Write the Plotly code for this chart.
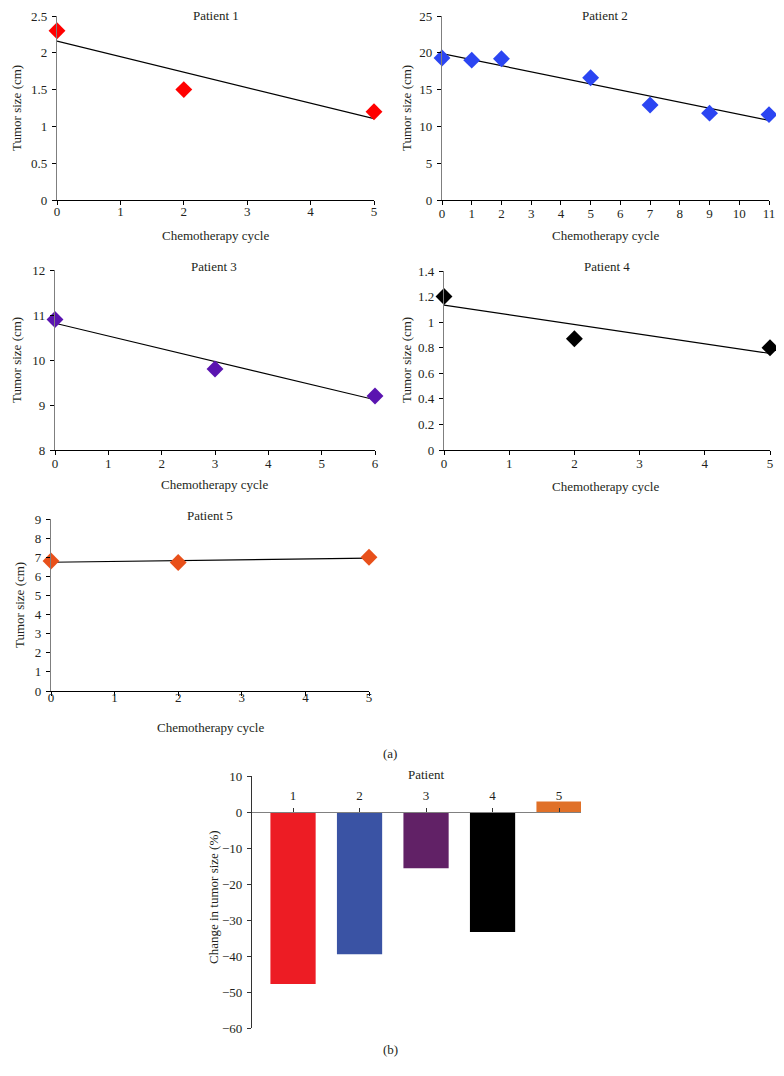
import numpy as np
import plotly.graph_objects as go

# The page body has an 8px margin, so the figure is 768x1060 placed at (8, 8)
OFF = 8
W, H = 784 - 2 * OFF, 1076 - 2 * OFF
FONT = "Liberation Serif"

# ---- data ----
p1_cycle = [0, 2, 5]
p1_size = [2.3, 1.5, 1.2]
p2_cycle = [0, 1, 2, 5, 7, 9, 11]
p2_size = [19.3, 19.0, 19.2, 16.6, 12.9, 11.8, 11.6]
p3_cycle = [0, 3, 6]
p3_size = [10.9, 9.8, 9.2]
p4_cycle = [0, 2, 5]
p4_size = [1.2, 0.87, 0.8]
p5_cycle = [0, 2, 5]
p5_size = [6.8, 6.72, 7.0]

patients = [1, 2, 3, 4, 5]
change_pct = [-47.8, -39.5, -15.6, -33.3, 2.9]
bar_colors = ["#ED1C24", "#3A53A4", "#612166", "#000000", "#E07028"]

panel_titles = ["Patient 1", "Patient 2", "Patient 3", "Patient 4", "Patient 5"]
xlab = "Chemotherapy cycle"
ylab = "Tumor size (cm)"
bar_ylab = "Change in tumor size (%)"
bar_xlab = "Patient"

# ---- layout helpers (window pixel boxes -> paper fractions) ----
def px(x):
    return (x - OFF) / W

def py(y):
    return 1 - (y - OFF) / H

def xd(a, b):
    return [px(a), px(b)]

def yd(top, bot):
    return [py(bot), py(top)]

panels = [
    dict(cx=p1_cycle, cy=p1_size, color="#FF0000", box=(57, 374, 16, 200),
         xr=[0, 5], yr=[0, 2.5], xt=[0, 1, 2, 3, 4, 5], yt=[0, 0.5, 1, 1.5, 2, 2.5],
         ylabels=["0", "0.5", "1", "1.5", "2", "2.5"], so=-5),
    dict(cx=p2_cycle, cy=p2_size, color="#2B45F2", box=(442, 769, 16, 200),
         xr=[0, 11], yr=[0, 25], xt=list(range(12)), yt=[0, 5, 10, 15, 20, 25],
         ylabels=None, so=-3),
    dict(cx=p3_cycle, cy=p3_size, color="#5A14B0", box=(55, 375, 270, 450),
         xr=[0, 6], yr=[8, 12], xt=list(range(7)), yt=[8, 9, 10, 11, 12],
         ylabels=None, so=-3),
    dict(cx=p4_cycle, cy=p4_size, color="#000000", box=(444, 770, 271, 450),
         xr=[0, 5], yr=[0, 1.4], xt=[0, 1, 2, 3, 4, 5], yt=[0, 0.2, 0.4, 0.6, 0.8, 1, 1.2, 1.4],
         ylabels=["0", "0.2", "0.4", "0.6", "0.8", "1", "1.2", "1.4"], so=-3),
    dict(cx=p5_cycle, cy=p5_size, color="#E8501A", box=(51, 369, 519, 691),
         xr=[0, 5], yr=[0, 9], xt=[0, 1, 2, 3, 4, 5], yt=list(range(10)),
         ylabels=None, so=-10),
]

TXT = "#231F20"
TF = 13

fig = go.Figure()
layout = dict(
    template="none",
    width=W, height=H, margin=dict(l=0, r=0, t=0, b=0, pad=0, autoexpand=False),
    paper_bgcolor="white", plot_bgcolor="white", showlegend=False,
    font=dict(family=FONT, size=TF, color=TXT),
)
annotations = []

def label(text, x, y, angle=0):
    return dict(text=text, x=px(x), y=py(y), xref="paper", yref="paper",
                xanchor="center", yanchor="middle", showarrow=False, textangle=angle,
                font=dict(family=FONT, size=TF, color=TXT))

for i, p in enumerate(panels):
    n = i + 1
    xa = "x" if n == 1 else f"x{n}"
    ya = "y" if n == 1 else f"y{n}"
    x0, x1, t, b = p["box"]
    # trend line (least squares fit of the data)
    k, c = np.polyfit(p["cx"], p["cy"], 1)
    tx = [min(p["cx"]), max(p["cx"])]
    fig.add_trace(go.Scatter(x=tx, y=[c + k * v for v in tx], mode="lines",
                             line=dict(color="#000000", width=1.2),
                             xaxis=xa, yaxis=ya, hoverinfo="skip", cliponaxis=False))
    fig.add_trace(go.Scatter(x=p["cx"], y=p["cy"], mode="markers",
                             marker=dict(symbol="diamond", size=13, color=p["color"],
                                         line=dict(width=0)),
                             xaxis=xa, yaxis=ya, cliponaxis=False))
    layout["xaxis" if n == 1 else f"xaxis{n}"] = dict(
        domain=xd(x0, x1), anchor=ya, range=p["xr"], tickvals=p["xt"], automargin=False,
        showgrid=False, zeroline=False, showline=True, linecolor="#000000", linewidth=1.2,
        ticks="outside", ticklen=4, tickcolor="#000000", tickwidth=1,
        ticklabelstandoff=p["so"],
        tickfont=dict(family=FONT, size=TF, color=TXT),
    )
    ydict = dict(
        domain=yd(t, b), anchor=xa, range=p["yr"], tickvals=p["yt"], automargin=False,
        showgrid=False, zeroline=False, showline=True, linecolor="#7F7F7F", linewidth=1.2,
        ticks="outside", ticklen=4, tickcolor="#000000", tickwidth=1,
        ticklabelstandoff=2,
        tickfont=dict(family=FONT, size=TF, color=TXT),
    )
    if p["ylabels"]:
        ydict["ticktext"] = p["ylabels"]
    layout["yaxis" if n == 1 else f"yaxis{n}"] = ydict

# annotation positions (window pixels)
title_pos = [(216, 15), (605, 15), (214, 266), (607, 266), (210, 515)]
xlab_pos = [(215, 235), (605, 235), (214, 485), (605, 486), (210, 727)]
ylab_pos = [(17, 108), (407, 108), (17, 360), (407, 360), (19, 605)]
for i in range(5):
    annotations.append(label(panel_titles[i], *title_pos[i]))
    annotations.append(label(xlab, *xlab_pos[i]))
    annotations.append(label(ylab, *ylab_pos[i], angle=-90))

# ---- bar chart (b) ----
fig.add_trace(go.Bar(x=patients, y=change_pct, marker=dict(color=bar_colors, line=dict(width=0)),
                     width=0.68, xaxis="x6", yaxis="y6"))
bt, bb = 776, 1028
ydom = yd(bt, bb)
yr_b = [-60, 10]
zero_pos = ydom[0] + (0 - yr_b[0]) / (yr_b[1] - yr_b[0]) * (ydom[1] - ydom[0])
layout["xaxis6"] = dict(
    domain=xd(252, 581), anchor="free", position=zero_pos, side="top", automargin=False,
    range=[0.383, 5.33], tickvals=patients, showgrid=False, zeroline=False,
    showline=True, linecolor="#808080", linewidth=1.2, layer="above traces",
    ticks="outside", ticklen=4, tickcolor="#333333", tickwidth=1,
    ticklabelstandoff=3,
    tickfont=dict(family=FONT, size=TF, color=TXT),
)
layout["yaxis6"] = dict(
    domain=ydom, anchor="x6", range=yr_b, tickvals=list(range(-60, 11, 10)), automargin=False,
    showgrid=False, zeroline=False, showline=True, linecolor="#333333", linewidth=1.2,
    ticks="outside", ticklen=4, tickcolor="#333333", tickwidth=1,
    ticklabelstandoff=2,
    tickfont=dict(family=FONT, size=TF, color=TXT),
)
annotations.append(label(bar_xlab, 426, 774))
annotations.append(label(bar_ylab, 213, 897, angle=-90))
annotations.append(label("(a)", 390, 753))
annotations.append(label("(b)", 390, 1049))

layout["annotations"] = annotations
fig.update_layout(**layout)
fig.write_html("out.html")
